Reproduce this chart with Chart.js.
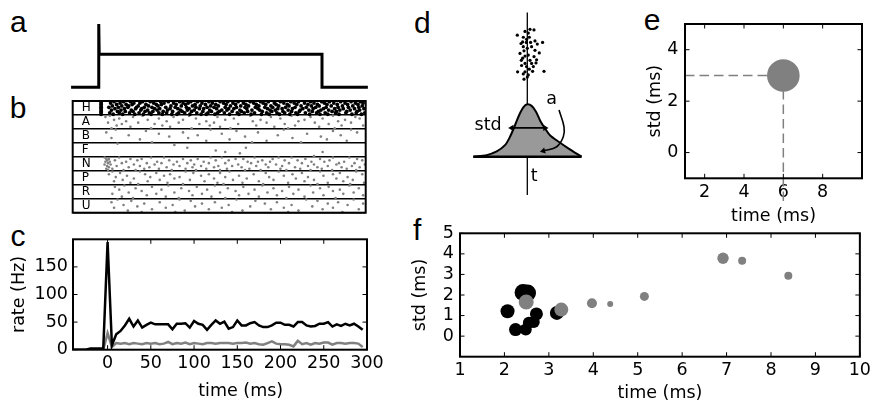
<!DOCTYPE html>
<html lang="en">
<head>
<meta charset="UTF-8">
<title>Spike timing panels</title>
<script src="https://cdn.jsdelivr.net/npm/chart.js"></script>
<style>
  html, body { margin: 0; padding: 0; background: #fff; overflow: hidden; }
  body { width: 874px; height: 403px; position: relative; font-family: "DejaVu Sans", sans-serif; }
  canvas { position: absolute; left: 0; top: 0; }
  .letter { position: absolute; font-family: "Liberation Sans", Arial, sans-serif; font-size: 30px; line-height: 1; color: #000; }
</style>
</head>
<body>
<div class="letter" style="left:9.9px;top:6.9px">a</div>
<div class="letter" style="left:9.7px;top:93px">b</div>
<div class="letter" style="left:10.5px;top:221.3px">c</div>
<div class="letter" style="left:413.9px;top:7.9px">d</div>
<div class="letter" style="left:643.8px;top:5.3px">e</div>
<div class="letter" style="left:413px;top:214.6px">f</div>
<script>
// ---- data ----
// a: stimulus trace
const stimTime = [-42, -10, -10, -9.5, 248, 248, 301];
const stimLevel = [0, 0, 1.92, 1, 1, 0, 0];

// b: raster, one array of spike times (ms) per trial, 10 trials per row
const rowNames = ['H', 'A', 'B', 'F', 'N', 'P', 'R', 'U'];
const spikesH = [
  [-7, 8, 19, 27, 41, 50, 62, 71, 84, 97, 105, 118, 131, 140, 152, 166, 178, 187, 201, 213, 222, 236, 249, 258, 271, 283, 294],
  [-7, 4, 15, 31, 38, 54, 66, 77, 88, 94, 110, 122, 135, 146, 158, 170, 181, 194, 205, 217, 229, 240, 252, 263, 276, 288, 297],
  [-7, 11, 22, 29, 45, 57, 63, 80, 91, 102, 114, 126, 138, 149, 161, 173, 184, 196, 209, 220, 233, 244, 255, 267, 279, 291],
  [-7, 6, 17, 25, 36, 48, 59, 74, 86, 99, 108, 120, 129, 143, 155, 164, 176, 190, 199, 211, 225, 237, 246, 260, 273, 285, 296],
  [-7, 2, 13, 24, 34, 43, 52, 68, 79, 92, 103, 116, 124, 137, 150, 160, 172, 183, 192, 207, 218, 231, 242, 254, 268, 280, 292],
  [-7, 9, 20, 33, 40, 55, 61, 73, 82, 95, 107, 112, 127, 141, 147, 162, 175, 186, 198, 203, 215, 227, 239, 251, 264, 274, 287, 298],
  [-7, 5, 16, 28, 39, 47, 58, 70, 85, 93, 101, 119, 133, 139, 154, 168, 177, 189, 195, 210, 224, 234, 248, 257, 270, 282, 293],
  [-7, 12, 21, 30, 44, 53, 65, 76, 87, 98, 111, 121, 130, 145, 156, 163, 180, 191, 204, 214, 223, 238, 245, 261, 266, 278, 290],
  [-7, 3, 14, 26, 37, 49, 60, 69, 83, 90, 104, 117, 128, 136, 151, 159, 171, 185, 197, 206, 219, 230, 243, 253, 265, 277, 289, 299],
  [-7, 7, 18, 32, 42, 51, 64, 75, 81, 96, 109, 115, 125, 142, 153, 167, 179, 188, 200, 212, 221, 235, 247, 256, 269, 284, 295]
];
const spikesA = [
  [3, 41, 95, 166, 214, 262], [-2, 30, 77, 128, 190, 236, 288], [14, 60, 103, 147, 201, 250, 293],
  [8, 47, 88, 137, 178, 229, 276], [22, 69, 115, 169, 222, 268], [1, 36, 83, 124, 185, 241, 283],
  [17, 55, 107, 152, 206, 257], [11, 64, 119, 173, 218, 272, 297], [27, 73, 131, 194, 246], [5, 51, 98, 143, 210, 264]
];
const spikesB = [
  [10, 120, 205, 283], [45, 150, 262], [-1, 88, 175, 290], [60, 133, 232], [25, 105, 198, 271],
  [72, 160, 248], [5, 94, 215], [38, 142, 255], [115, 185, 278], [52, 168, 225]
];
const spikesF = [[12], [78], [], [93, 161], [], [126], [137, 250], [154], [], [240]];
const spikesN = [
  [-3, 14, 51, 66, 120, 133, 171, 199, 214, 262, 281], [-1, 2, 27, 40, 88, 105, 149, 158, 192, 230, 247, 290],
  [0, 9, 35, 72, 97, 126, 141, 180, 206, 221, 258, 296], [-2, 3, 22, 58, 81, 112, 163, 175, 189, 237, 252, 275],
  [1, 17, 46, 63, 93, 118, 137, 167, 211, 226, 269, 287], [-3, 4, 31, 55, 77, 101, 152, 184, 196, 240, 266, 299],
  [0, 11, 38, 84, 109, 129, 145, 173, 203, 233, 256, 284], [2, 25, 49, 69, 99, 124, 156, 187, 218, 244, 272, 293],
  [-1, 6, 43, 60, 91, 115, 139, 165, 201, 224, 249, 278], [1, 19, 33, 75, 103, 131, 160, 178, 208, 236, 261, 289]
];
const spikesP = [
  [6, 38, 91, 142, 199, 247, 289], [15, 57, 100, 131, 184, 226, 270], [2, 44, 73, 118, 170, 215, 262, 296],
  [23, 66, 109, 153, 205, 251], [10, 50, 84, 137, 188, 233, 279], [31, 78, 124, 162, 219, 266],
  [18, 61, 96, 146, 193, 240, 285], [8, 47, 113, 176, 229, 274], [27, 70, 128, 157, 210, 256, 298], [36, 88, 135, 181, 244, 282]
];
const spikesR = [
  [20, 71, 125, 180, 236, 281], [9, 52, 104, 158, 211, 257], [33, 86, 140, 193, 247, 292], [14, 63, 116, 171, 222, 270],
  [40, 95, 149, 203, 262], [25, 78, 131, 186, 239, 286], [6, 57, 110, 164, 216, 274], [46, 99, 153, 197, 251, 297],
  [17, 68, 121, 176, 229], [30, 83, 137, 208, 265]
];
const spikesU = [
  [12, 84, 150, 231, 286], [28, 97, 172, 244], [5, 61, 125, 197, 268], [43, 110, 183, 256, 297],
  [19, 76, 141, 214, 279], [35, 102, 166, 238], [8, 68, 133, 205, 262], [52, 118, 190, 250, 292],
  [24, 90, 157, 222], [40, 79, 145, 210, 273]
];
const rasterRows = [spikesH, spikesA, spikesB, spikesF, spikesN, spikesP, spikesR, spikesU];

// c: PSTH, 5 ms bins
const rateTime = [-40, -35, -30, -25, -20, -15, -10, -5, 0, 5, 10, 15, 20, 25, 30, 35, 40, 45, 50, 55,
  60, 65, 70, 75, 80, 85, 90, 95, 100, 105, 110, 115, 120, 125, 130, 135, 140, 145, 150, 155,
  160, 165, 170, 175, 180, 185, 190, 195, 200, 205, 210, 215, 220, 225, 230, 235, 240, 245, 250, 255,
  260, 265, 270, 275, 280, 285, 290, 295];
const rateBlack = [0, 0, 0, 0, 2, 2, 2, 2, 195, 8, 28, 34, 44, 56, 42, 53, 40, 45, 49, 46,
  46, 46, 46, 37, 47, 47, 48, 40, 52, 47, 45, 36, 45, 53, 47, 51, 38, 41, 53, 44,
  44, 48, 50, 44, 41, 41, 44, 49, 49, 45, 45, 42, 50, 50, 44, 42, 43, 47, 47, 50,
  42, 46, 43, 47, 44, 47, 42, 36];
const rateGray = [0, 0, 0, 0, 0, 0, 0, 0, 30, 5, 12, 11, 12, 10, 12, 11, 10, 12, 11, 12,
  10, 11, 14, 10, 12, 11, 13, 10, 12, 11, 10, 12, 12, 11, 12, 12, 12, 11, 12, 12,
  13, 11, 12, 10, 9, 12, 15, 11, 10, 10, 9, 6, 16, 10, 12, 9, 12, 11, 13, 13,
  9, 12, 12, 11, 12, 12, 11, 5];
const cTicksX = [0, 50, 100, 150, 200, 250, 300];
const cTicksY = [0, 50, 100, 150];

// d: schematic of one spike-time distribution
const dCurveX = [-5.4, -4.06, -3.06, -2.23, -1.73, -1.23, -0.8, -0.4, 0, 0.43, 0.87, 1.33, 1.77, 2.27, 3.1, 4.1, 5.43];
const dCurveY = [0, 0.03, 0.1, 0.22, 0.38, 0.6, 0.8, 0.94, 1, 0.97, 0.86, 0.67, 0.54, 0.41, 0.29, 0.16, 0];
const dSpikeX = [-1.0, -0.23, 0.27, 0.67, 0.1, -0.4, -0.07, 0.2, -0.47, 0.33, 0.77, 1.0, 1.53, -0.4, 0.0, -0.33,
  0.77, 1.2, -0.73, 0.1, 0.67, -0.47, 0.93, -0.23, 0.43, 0.87, -0.57, -0.07, 0.6, 0.2, -0.97, -0.23, 0.53,
  -0.4, 0.1, 0.0, -0.33, 1.67, -0.1, -0.63, 0.43, -0.23, 0.27, -0.6];
const dSpikeY = [2.32, 2.39, 2.43, 2.42, 2.36, 2.28, 2.24, 2.28, 2.19, 2.18, 2.21, 2.15, 2.18, 2.1, 2.07, 2.02,
  2.03, 1.98, 1.97, 1.94, 1.91, 1.88, 1.85, 1.78, 1.78, 1.79, 1.74, 1.72, 1.72, 1.67, 1.62, 1.62, 1.63,
  1.58, 1.56, 1.52, 1.48, 1.63, 2.18, 2.16, 2.1, 1.92, 1.84, 1.84];
const dStdX = [-1.56, 1.77];
const dStdLevel = 0.55;
const dArrowX = [3.17, 3.67, 3.6, 2.94, 1.6];
const dArrowY = [0.89, 0.57, 0.38, 0.19, 0.11];
const dNotes = [
  { text: 'std', x: -2.56, y: 0.59, align: 'right' },
  { text: 'a', x: 2.44, y: 1.1, align: 'center' },
  { text: 't', x: 0.34, y: -0.37, align: 'left' }
];

// e: one fitted distribution
const eTime = [6];
const eStd = [3];
const eAmp = [1.63];
const eTicksX = [2, 4, 6, 8];
const eTicksY = [0, 2, 4];

// f: all fitted distributions
const fGrayTime = [6.92, 7.35, 8.39, 5.15, 4.38, 3.97, 3.28, 2.49];
const fGrayStd = [3.79, 3.67, 2.93, 1.93, 1.56, 1.60, 1.29, 1.66];
const fGrayAmp = [0.57, 0.40, 0.40, 0.45, 0.30, 0.50, 0.70, 0.75];
const fBlackTime = [2.42, 2.52, 2.07, 2.25, 2.48, 2.55, 2.66, 2.72, 3.18];
const fBlackStd = [2.12, 2.10, 1.21, 0.32, 0.32, 0.65, 0.69, 1.08, 1.13];
const fBlackAmp = [0.85, 0.85, 0.70, 0.65, 0.60, 0.60, 0.60, 0.65, 0.70];
const fTicksX = [1, 2, 3, 4, 5, 6, 7, 8, 9, 10];
const fTicksY = [0, 1, 2, 3, 4, 5];

// ---- setup ----
const W = 874, H = 440;
const GRAY = '#808080';
const FONT = '"DejaVu Sans", sans-serif';

Chart.defaults.font.family = FONT;
Chart.defaults.font.size = 17.5;
Chart.defaults.color = '#000';
Chart.defaults.animation = false;
Chart.defaults.responsive = false;
Chart.defaults.events = [];
Chart.defaults.plugins.legend.display = false;
Chart.defaults.plugins.tooltip.enabled = false;

function makeCanvas() {
  const c = document.createElement('canvas');
  c.width = W; c.height = H;
  document.body.appendChild(c);
  return c;
}

function pairs(xs, ys) {
  return xs.map((x, i) => ({ x: x, y: ys[i] }));
}

// layout so that the plot box lands on the given page rectangle
function boxLayout(box, yw, xh) {
  return { autoPadding: false, padding: { left: box.l - yw, top: box.t, right: W - box.r, bottom: H - box.b - xh } };
}

function linAxis(min, max, tickVals, isX, size, pad, title) {
  return {
    type: 'linear', min: min, max: max,
    afterBuildTicks: s => { s.ticks = tickVals.map(v => ({ value: v })); },
    afterFit: s => { if (isX) s.height = size; else s.width = size; },
    grid: { display: false, drawTicks: false },
    border: { display: false },
    ticks: { padding: pad, maxRotation: 0, autoSkip: false, color: '#000' },
    title: { display: !!title, text: title || '', padding: 0, color: '#000' }
  };
}

// matplotlib-like box with inward ticks
const framePlugin = {
  id: 'frame',
  afterDraw(chart, args, opts) {
    const { ctx, chartArea: a } = chart;
    ctx.save();
    ctx.strokeStyle = '#000';
    if (opts.ticks) {
      const len = 4.5;
      const xs = chart.scales.x, ys = chart.scales.y;
      ctx.lineWidth = 1;
      ctx.beginPath();
      xs.ticks.forEach(t => {
        const p = xs.getPixelForValue(t.value);
        ctx.moveTo(p, a.bottom); ctx.lineTo(p, a.bottom - len);
        ctx.moveTo(p, a.top); ctx.lineTo(p, a.top + len);
      });
      ys.ticks.forEach(t => {
        const p = ys.getPixelForValue(t.value);
        ctx.moveTo(a.left, p); ctx.lineTo(a.left + len, p);
        ctx.moveTo(a.right, p); ctx.lineTo(a.right - len, p);
      });
      ctx.stroke();
    }
    ctx.lineWidth = opts.width || 2;
    ctx.strokeRect(a.left, a.top, a.right - a.left, a.bottom - a.top);
    if (opts.xTitle) {
      // x label that sits off the box centre, as in the source figure
      ctx.font = '17.5px ' + FONT;
      ctx.fillStyle = '#000';
      ctx.textAlign = 'center';
      ctx.textBaseline = 'middle';
      ctx.fillText(opts.xTitle, (a.left + a.right) / 2 + opts.xTitleDx, a.bottom + opts.xTitleDy);
    }
    ctx.restore();
  }
};

const notesPlugin = {
  id: 'notes',
  afterDatasetsDraw(chart) {
    const { ctx } = chart;
    const xs = chart.scales.x, ys = chart.scales.y;
    ctx.save();
    ctx.font = '17.5px ' + FONT;
    ctx.fillStyle = '#000';
    ctx.textBaseline = 'middle';
    dNotes.forEach(n => {
      ctx.textAlign = n.align;
      ctx.fillText(n.text, xs.getPixelForValue(n.x), ys.getPixelForValue(n.y));
    });
    ctx.restore();
  }
};

// ---- a: stimulus ----
const boxA = { l: 72.8, r: 367, t: 21.3, b: 95.55 };
new Chart(makeCanvas(), {
  type: 'line',
  data: { datasets: [{
    data: pairs(stimTime, stimLevel), borderColor: '#000', borderWidth: 3,
    pointRadius: 0, clip: false, borderJoinStyle: 'miter', borderCapStyle: 'butt'
  }] },
  options: {
    layout: boxLayout(boxA, 0, 0),
    scales: {
      x: { type: 'linear', min: -40, max: 300, display: false },
      y: { type: 'linear', min: -0.25, max: 2, display: false }
    }
  }
});

// ---- b: raster ----
const boxB = { l: 72.7, r: 365.7, t: 101, b: 212.7 };
function rasterPoints(rowIdx) {
  const pts = [];
  const trials = rasterRows[rowIdx];
  trials.forEach((trial, k) => trial.forEach(t => pts.push({ x: t, y: rowIdx + (k + 0.5) / trials.length })));
  return pts;
}
new Chart(makeCanvas(), {
  type: 'line',
  data: { datasets: rasterRows.map((row, i) => ({
    data: rasterPoints(i), showLine: false,
    pointRadius: i === 0 ? 1.9 : 1.3,
    pointBackgroundColor: i === 0 ? '#000' : GRAY,
    pointBorderWidth: 0
  })) },
  options: {
    layout: boxLayout(boxB, 0, 0),
    scales: {
      x: { type: 'linear', min: -40, max: 300, display: false },
      y: {
        type: 'linear', min: 0, max: 8, reverse: true,
        afterBuildTicks: s => { s.ticks = rowNames.map((n, i) => ({ value: i + 0.5 })); },
        afterFit: s => { s.width = 0; },
        grid: { offset: true, color: '#000', lineWidth: 1.5, drawTicks: false },
        border: { display: false },
        ticks: { mirror: true, padding: 9, autoSkip: false, font: { size: 12 }, color: '#000',
                 callback: (v, i) => rowNames[i] }
      }
    },
    plugins: { frame: { ticks: false, width: 2 } }
  },
  plugins: [framePlugin]
});

// ---- c: rates ----
const boxC = { l: 73, r: 367, t: 239.3, b: 349.7 };
new Chart(makeCanvas(), {
  type: 'line',
  data: { datasets: [
    { data: pairs(rateTime, rateBlack), borderColor: '#000', borderWidth: 2.5, pointRadius: 0, order: 0 },
    { data: pairs(rateTime, rateGray), borderColor: GRAY, borderWidth: 2.5, pointRadius: 0, order: 1 }
  ] },
  options: {
    layout: boxLayout(boxC, 64, 52.2),
    scales: {
      x: linAxis(-40, 300, cTicksX, true, 52.2, 3, null),
      y: linAxis(0, 200, cTicksY, false, 64, 5, 'rate (Hz)')
    },
    plugins: { frame: { ticks: true, width: 2, xTitle: 'time (ms)', xTitleDx: 20.7, xTitleDy: 42 } }
  },
  plugins: [framePlugin]
});

// ---- d: schematic ----
const boxD = { l: 467.3, r: 587.3, t: 4.74, b: 198.62 };
new Chart(makeCanvas(), {
  type: 'line',
  data: { datasets: [
    { data: [{ x: 0, y: 2.75 }, { x: 0, y: -0.73 }], borderColor: '#000', borderWidth: 1.3, pointRadius: 0, order: 5, clip: false },
    { data: pairs(dCurveX, dCurveY), borderColor: '#000', borderWidth: 2, pointRadius: 0, tension: 0.3,
      fill: 'origin', backgroundColor: '#999999', order: 4 },
    { data: [{ x: dCurveX[0], y: 0 }, { x: dCurveX[dCurveX.length - 1], y: 0 }], borderColor: '#000', borderWidth: 2.5, pointRadius: 0, order: 3 },
    { data: dStdX.map(x => ({ x: x, y: dStdLevel })), borderColor: '#000', borderWidth: 1.6,
      pointStyle: 'triangle', pointRadius: 3.5, pointRotation: [270, 90], pointBackgroundColor: '#000', pointBorderWidth: 0, order: 2 },
    { data: pairs(dArrowX, dArrowY), borderColor: '#000', borderWidth: 1.6, tension: 0.4, clip: false,
      pointStyle: 'triangle', pointRadius: [0, 0, 0, 0, 3.5], pointRotation: 255, pointBackgroundColor: '#000', pointBorderWidth: 0, order: 1 },
    { data: pairs(dSpikeX, dSpikeY), showLine: false, pointRadius: 1.6, pointBackgroundColor: '#000', pointBorderWidth: 0, order: 0 }
  ] },
  options: {
    layout: boxLayout(boxD, 0, 0),
    scales: {
      x: { type: 'linear', min: -6, max: 6, display: false },
      y: { type: 'linear', min: -0.8, max: 2.9, display: false }
    }
  },
  plugins: [notesPlugin]
});

// ---- e: single fit ----
const boxE = { l: 685, r: 862, t: 24, b: 178.3 };
new Chart(makeCanvas(), {
  type: 'line',
  data: { datasets: [
    { data: [{ x: 1, y: eStd[0] }, { x: eTime[0], y: eStd[0] }], borderColor: GRAY, borderWidth: 1.5,
      borderDash: [9.5, 5], pointRadius: 0, clip: false, order: 2 },
    { data: [{ x: eTime[0], y: eStd[0] }, { x: eTime[0], y: -1.95 }], borderColor: GRAY, borderWidth: 1.5,
      borderDash: [9.5, 5], pointRadius: 0, clip: false, order: 2 },
    { data: pairs(eTime, eStd), showLine: false, pointRadius: eAmp.map(a => a * 10),
      pointBackgroundColor: GRAY, pointBorderWidth: 0, order: 1 }
  ] },
  options: {
    layout: boxLayout(boxE, 40.2, 48.6),
    scales: {
      x: linAxis(1, 10, eTicksX, true, 48.6, 4, 'time (ms)'),
      y: linAxis(-1, 5, eTicksY, false, 40.2, 6.5, 'std (ms)')
    },
    plugins: { frame: { ticks: true, width: 2 } }
  },
  plugins: [framePlugin]
});

// ---- f: all fits ----
const boxF = { l: 460, r: 862, t: 233.3, b: 356.7 };
new Chart(makeCanvas(), {
  type: 'line',
  data: { datasets: [
    { data: pairs(fGrayTime, fGrayStd), showLine: false, pointRadius: fGrayAmp.map(a => a * 10),
      pointBackgroundColor: GRAY, pointBorderWidth: 0, order: 0 },
    { data: pairs(fBlackTime, fBlackStd), showLine: false, pointRadius: fBlackAmp.map(a => a * 10),
      pointBackgroundColor: '#000', pointBorderWidth: 0, order: 1 }
  ] },
  options: {
    layout: boxLayout(boxF, 50.2, 47.7),
    scales: {
      x: linAxis(1, 10, fTicksX, true, 47.7, 3, 'time (ms)'),
      y: linAxis(-1, 5, fTicksY, false, 50.2, 6, 'std (ms)')
    },
    plugins: { frame: { ticks: true, width: 2 } }
  },
  plugins: [framePlugin]
});
</script>
</body>
</html>
